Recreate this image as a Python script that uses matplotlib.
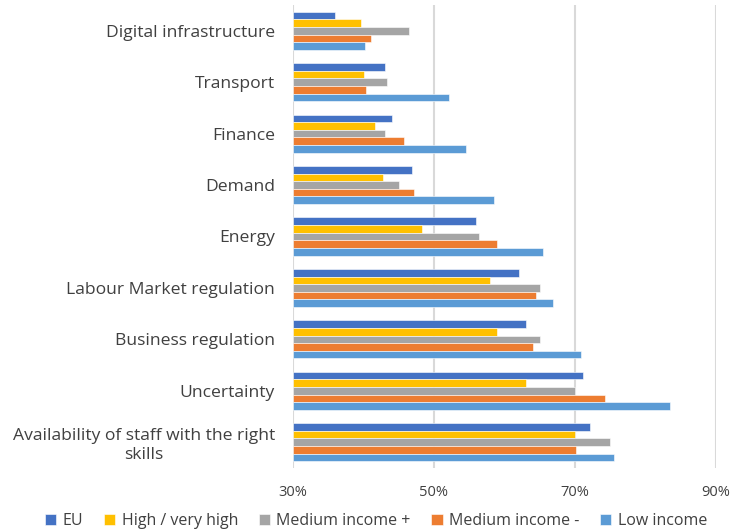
import numpy as np
import matplotlib.pyplot as plt

plt.rcParams['font.family'] = ['Open Sans', 'DejaVu Sans']

# categories from top to bottom
categories = [
    "Digital infrastructure",
    "Transport",
    "Finance",
    "Demand",
    "Energy",
    "Labour Market regulation",
    "Business regulation",
    "Uncertainty",
    "Availability of staff with the right\nskills",
]

series_names = ["EU", "High / very high", "Medium income +", "Medium income -", "Low income"]
colors = ["#4472C4", "#FFC000", "#A5A5A5", "#ED7D31", "#5B9BD5"]

eu = [36.0, 43.1, 44.0, 46.9, 56.0, 62.1, 63.0, 71.1, 72.1]
high = [39.7, 40.1, 41.6, 42.8, 48.3, 57.9, 58.9, 63.0, 70.0]
med_plus = [46.5, 43.4, 43.1, 45.0, 56.4, 65.1, 65.0, 70.0, 75.0]
med_minus = [41.1, 40.3, 45.8, 47.1, 58.9, 64.4, 64.0, 74.2, 70.1]
low = [40.2, 52.1, 54.6, 58.5, 65.5, 66.9, 70.9, 83.5, 75.6]

values = [eu, high, med_plus, med_minus, low]

x_ticks = [30, 50, 70, 90]
x_labels = ["30%", "50%", "70%", "90%"]

fig = plt.figure(figsize=(7.45, 5.31), dpi=100)
ax = fig.add_axes([293 / 745, 1 - 468 / 531, 423 / 745, 463 / 531])

y = np.arange(len(categories))
bar_h = 0.148
base = 30
for i, (name, vals, col) in enumerate(zip(series_names, values, colors)):
    offs = (i - 2) * bar_h
    ax.barh(y + offs, np.array(vals) - base, left=base, height=bar_h,
            color=col, edgecolor="white", linewidth=0.4, label=name, zorder=3)

ax.set_xlim(30, 90)
ax.set_ylim(len(categories) - 0.5, -0.5)
ax.set_xticks(x_ticks)
ax.set_xticklabels(x_labels)
ax.set_yticks(y)
ax.set_yticklabels(categories, multialignment="center")
ax.tick_params(axis="both", length=0, colors="#404040")
ax.tick_params(axis="x", pad=12, labelsize=10.5)
ax.tick_params(axis="y", pad=13, labelsize=12.6)

ax.grid(axis="x", color="#D9D9D9", linewidth=1.5, zorder=0)
for s in ax.spines.values():
    s.set_visible(False)

leg = fig.legend(loc="center", bbox_to_anchor=(376 / 745, 1 - 521 / 531), ncol=5,
                 frameon=False, fontsize=11.5, handlelength=0.7, handleheight=0.7,
                 handletextpad=0.4, columnspacing=1.3, labelcolor="#404040")

fig.savefig("out.png", dpi=100)
